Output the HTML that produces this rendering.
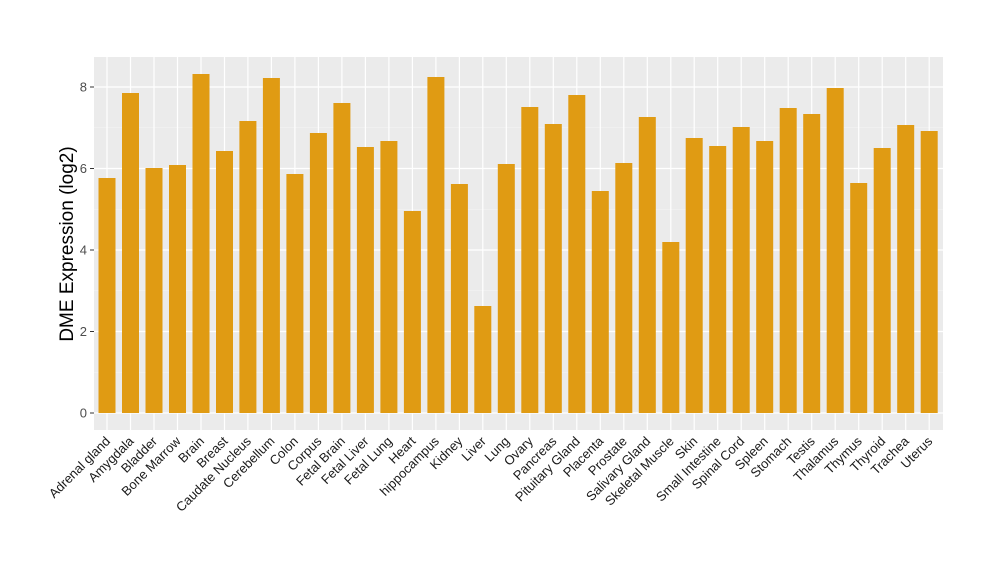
<!DOCTYPE html>
<html><head><meta charset="utf-8"><style>body{margin:0;background:#fff}svg{display:block}text{font-family:"Liberation Sans",sans-serif}</style></head>
<body>
<svg width="1000" height="580" xmlns="http://www.w3.org/2000/svg">
<rect x="94" y="57" width="849" height="373" fill="#ebebeb"/>
<g stroke="#f5f5f5" stroke-width="0.6">
<line x1="94" x2="943" y1="372.25" y2="372.25"/><line x1="94" x2="943" y1="290.75" y2="290.75"/><line x1="94" x2="943" y1="209.25" y2="209.25"/><line x1="94" x2="943" y1="127.75" y2="127.75"/>
</g>
<g stroke="#fff" stroke-width="1.2">
<line x1="94" x2="943" y1="413" y2="413"/><line x1="94" x2="943" y1="331.5" y2="331.5"/><line x1="94" x2="943" y1="250" y2="250"/><line x1="94" x2="943" y1="168.5" y2="168.5"/><line x1="94" x2="943" y1="87" y2="87"/>
<line x1="107" x2="107" y1="57" y2="430"/><line x1="130.5" x2="130.5" y1="57" y2="430"/><line x1="154" x2="154" y1="57" y2="430"/><line x1="177.5" x2="177.5" y1="57" y2="430"/><line x1="201" x2="201" y1="57" y2="430"/><line x1="224.5" x2="224.5" y1="57" y2="430"/><line x1="247.9" x2="247.9" y1="57" y2="430"/><line x1="271.4" x2="271.4" y1="57" y2="430"/><line x1="294.9" x2="294.9" y1="57" y2="430"/><line x1="318.4" x2="318.4" y1="57" y2="430"/><line x1="341.9" x2="341.9" y1="57" y2="430"/><line x1="365.4" x2="365.4" y1="57" y2="430"/><line x1="388.9" x2="388.9" y1="57" y2="430"/><line x1="412.4" x2="412.4" y1="57" y2="430"/><line x1="435.9" x2="435.9" y1="57" y2="430"/><line x1="459.4" x2="459.4" y1="57" y2="430"/><line x1="482.8" x2="482.8" y1="57" y2="430"/><line x1="506.3" x2="506.3" y1="57" y2="430"/><line x1="529.8" x2="529.8" y1="57" y2="430"/><line x1="553.3" x2="553.3" y1="57" y2="430"/><line x1="576.8" x2="576.8" y1="57" y2="430"/><line x1="600.3" x2="600.3" y1="57" y2="430"/><line x1="623.8" x2="623.8" y1="57" y2="430"/><line x1="647.3" x2="647.3" y1="57" y2="430"/><line x1="670.8" x2="670.8" y1="57" y2="430"/><line x1="694.2" x2="694.2" y1="57" y2="430"/><line x1="717.7" x2="717.7" y1="57" y2="430"/><line x1="741.2" x2="741.2" y1="57" y2="430"/><line x1="764.7" x2="764.7" y1="57" y2="430"/><line x1="788.2" x2="788.2" y1="57" y2="430"/><line x1="811.7" x2="811.7" y1="57" y2="430"/><line x1="835.2" x2="835.2" y1="57" y2="430"/><line x1="858.7" x2="858.7" y1="57" y2="430"/><line x1="882.2" x2="882.2" y1="57" y2="430"/><line x1="905.7" x2="905.7" y1="57" y2="430"/><line x1="929.2" x2="929.2" y1="57" y2="430"/>
</g>
<g fill="#e09b13">
<rect x="98.5" y="178" width="17" height="235"/>
<rect x="122" y="93" width="17" height="320"/>
<rect x="145.5" y="168" width="17" height="245"/>
<rect x="169" y="165" width="17" height="248"/>
<rect x="192.5" y="74" width="17" height="339"/>
<rect x="216" y="151" width="17" height="262"/>
<rect x="239.4" y="121" width="17" height="292"/>
<rect x="262.9" y="78" width="17" height="335"/>
<rect x="286.4" y="174" width="17" height="239"/>
<rect x="309.9" y="133" width="17" height="280"/>
<rect x="333.4" y="103" width="17" height="310"/>
<rect x="356.9" y="147" width="17" height="266"/>
<rect x="380.4" y="141" width="17" height="272"/>
<rect x="403.9" y="211" width="17" height="202"/>
<rect x="427.4" y="77" width="17" height="336"/>
<rect x="450.9" y="184" width="17" height="229"/>
<rect x="474.3" y="306" width="17" height="107"/>
<rect x="497.8" y="164" width="17" height="249"/>
<rect x="521.3" y="107" width="17" height="306"/>
<rect x="544.8" y="124" width="17" height="289"/>
<rect x="568.3" y="95" width="17" height="318"/>
<rect x="591.8" y="191" width="17" height="222"/>
<rect x="615.3" y="163" width="17" height="250"/>
<rect x="638.8" y="117" width="17" height="296"/>
<rect x="662.3" y="242" width="17" height="171"/>
<rect x="685.7" y="138" width="17" height="275"/>
<rect x="709.2" y="146" width="17" height="267"/>
<rect x="732.7" y="127" width="17" height="286"/>
<rect x="756.2" y="141" width="17" height="272"/>
<rect x="779.7" y="108" width="17" height="305"/>
<rect x="803.2" y="114" width="17" height="299"/>
<rect x="826.7" y="88" width="17" height="325"/>
<rect x="850.2" y="183" width="17" height="230"/>
<rect x="873.7" y="148" width="17" height="265"/>
<rect x="897.2" y="125" width="17" height="288"/>
<rect x="920.7" y="131" width="17" height="282"/>
</g>
<g stroke="#333">
<line x1="90" x2="94" y1="413" y2="413"/><line x1="90" x2="94" y1="331.5" y2="331.5"/><line x1="90" x2="94" y1="250" y2="250"/><line x1="90" x2="94" y1="168.5" y2="168.5"/><line x1="90" x2="94" y1="87" y2="87"/>
</g>
<g font-size="13" fill="#4d4d4d" text-anchor="end">
<text x="87" y="417.5">0</text><text x="87" y="336">2</text><text x="87" y="254.5">4</text><text x="87" y="173">6</text><text x="87" y="91.5">8</text>
</g>
<g font-size="13" fill="#1a1a1a" text-anchor="end">
<text transform="translate(111,442) rotate(-45)">Adrenal gland</text>
<text transform="translate(134.5,442) rotate(-45)">Amygdala</text>
<text transform="translate(158,442) rotate(-45)">Bladder</text>
<text transform="translate(181.5,442) rotate(-45)">Bone Marrow</text>
<text transform="translate(205,442) rotate(-45)">Brain</text>
<text transform="translate(228.5,442) rotate(-45)">Breast</text>
<text transform="translate(251.9,442) rotate(-45)">Caudate Nucleus</text>
<text transform="translate(275.4,442) rotate(-45)">Cerebellum</text>
<text transform="translate(298.9,442) rotate(-45)">Colon</text>
<text transform="translate(322.4,442) rotate(-45)">Corpus</text>
<text transform="translate(345.9,442) rotate(-45)">Fetal Brain</text>
<text transform="translate(369.4,442) rotate(-45)">Fetal Liver</text>
<text transform="translate(392.9,442) rotate(-45)">Fetal Lung</text>
<text transform="translate(416.4,442) rotate(-45)">Heart</text>
<text transform="translate(439.9,442) rotate(-45)">hippocampus</text>
<text transform="translate(463.4,442) rotate(-45)">Kidney</text>
<text transform="translate(486.8,442) rotate(-45)">Liver</text>
<text transform="translate(510.3,442) rotate(-45)">Lung</text>
<text transform="translate(533.8,442) rotate(-45)">Ovary</text>
<text transform="translate(557.3,442) rotate(-45)">Pancreas</text>
<text transform="translate(580.8,442) rotate(-45)">Pituitary Gland</text>
<text transform="translate(604.3,442) rotate(-45)">Placenta</text>
<text transform="translate(627.8,442) rotate(-45)">Prostate</text>
<text transform="translate(651.3,442) rotate(-45)">Salivary Gland</text>
<text transform="translate(674.8,442) rotate(-45)">Skeletal Muscle</text>
<text transform="translate(698.2,442) rotate(-45)">Skin</text>
<text transform="translate(721.7,442) rotate(-45)">Small Intestine</text>
<text transform="translate(745.2,442) rotate(-45)">Spinal Cord</text>
<text transform="translate(768.7,442) rotate(-45)">Spleen</text>
<text transform="translate(792.2,442) rotate(-45)">Stomach</text>
<text transform="translate(815.7,442) rotate(-45)">Testis</text>
<text transform="translate(839.2,442) rotate(-45)">Thalamus</text>
<text transform="translate(862.7,442) rotate(-45)">Thymus</text>
<text transform="translate(886.2,442) rotate(-45)">Thyroid</text>
<text transform="translate(909.7,442) rotate(-45)">Trachea</text>
<text transform="translate(933.2,442) rotate(-45)">Uterus</text>
</g>
<text transform="translate(73,244) rotate(-90)" text-anchor="middle" font-size="19" fill="#000">DME Expression (log2)</text>
</svg>
</body></html>
